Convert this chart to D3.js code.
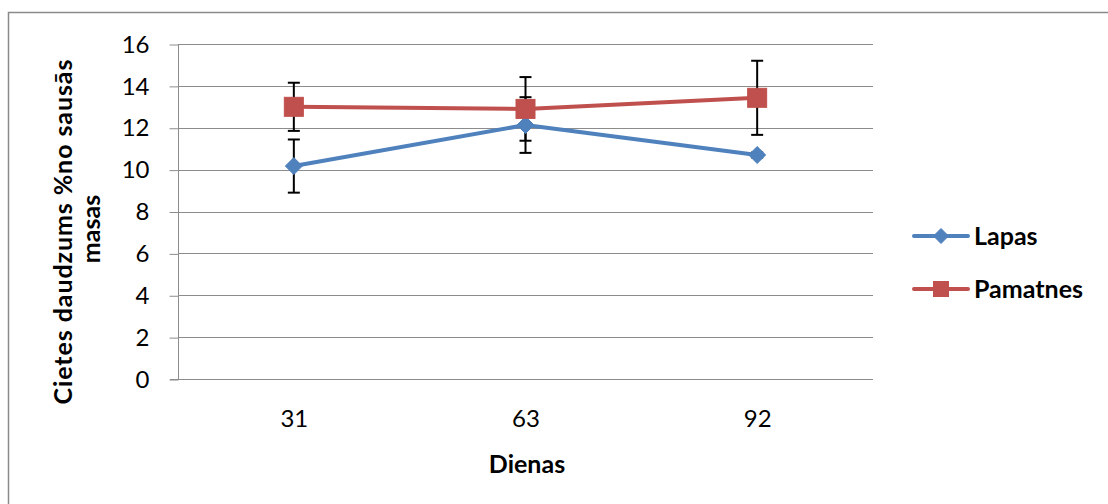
<!DOCTYPE html>
<html><head><meta charset="utf-8">
<script src="https://cdn.jsdelivr.net/npm/d3@7"></script>
<style>
html,body{margin:0;padding:0;background:#fff;}
svg{display:block;}
text{font-family:Lato,"Open Sans",sans-serif;}
</style></head>
<body><svg id="c" width="1108" height="504"></svg>
<script>
const categories = ["31", "63", "92"];
const lapasValues = [10.17, 12.13, 10.70];
const lapasErrors = [1.27, 1.33, 0.12];
const pamatnesValues = [13.00, 12.90, 13.43];
const pamatnesErrors = [1.15, 1.52, 1.77];
const yTicks = [0, 2, 4, 6, 8, 10, 12, 14, 16];
const seriesNames = ["Lapas", "Pamatnes"];
const yTitleLines = ["Cietes daudzums %no sausās", "masas"];
const xTitle = "Dienas";

const series = [
  {name: seriesNames[0], values: lapasValues, errors: lapasErrors, color: "#4F81BD", marker: "diamond"},
  {name: seriesNames[1], values: pamatnesValues, errors: pamatnesErrors, color: "#C0504D", marker: "square"}
];

const svg = d3.select("#c");
const gridColor = "#8c8c8c";

// outer frame
svg.append("rect").attr("x", 8.5).attr("y", 12.5).attr("width", 1300).attr("height", 700)
  .attr("fill", "none").attr("stroke", "#8a8a8a").attr("stroke-width", 1.5);

const x = d3.scalePoint().domain(categories).range([178, 873]).padding(0.5);
const y = d3.scaleLinear().domain([0, 16]).range([379, 44]);

// gridlines
svg.append("g").selectAll("line").data(yTicks.filter(d => d > 0)).join("line")
  .attr("x1", 178).attr("x2", 873)
  .attr("y1", d => Math.round(y(d)) + 0.5).attr("y2", d => Math.round(y(d)) + 0.5)
  .attr("stroke", gridColor).attr("stroke-width", 1);

// y axis
const yAxis = svg.append("g").attr("transform", "translate(178.5,0.5)")
  .call(d3.axisLeft(y).tickValues(yTicks).tickSize(9).tickPadding(20).tickFormat(d3.format("d")));
yAxis.select(".domain").attr("stroke", gridColor).attr("d", `M0,${y(16)}V${y(0)}`);
yAxis.selectAll(".tick line").attr("stroke", gridColor);
yAxis.selectAll(".tick text").attr("font-size", 24).attr("fill", "#000")
  .attr("font-family", "Lato, sans-serif");

// x axis
const xAxis = svg.append("g").attr("transform", `translate(0,${Math.round(y(0)) + 0.5})`)
  .call(d3.axisBottom(x).tickSize(0).tickPadding(30));
xAxis.select(".domain").attr("stroke", gridColor).attr("d", "M170,0H873");
xAxis.selectAll(".tick text").attr("font-size", 24).attr("fill", "#000")
  .attr("font-family", "Lato, sans-serif");

// lines
const line = d3.line().x((d, i) => x(categories[i])).y(d => y(d));
series.forEach(s => {
  svg.append("path").datum(s.values).attr("d", line)
    .attr("fill", "none").attr("stroke", s.color).attr("stroke-width", 4)
    .attr("stroke-linejoin", "round").attr("stroke-linecap", "round");
});

// error bars
series.forEach(s => {
  const g = svg.append("g").attr("stroke", "#000").attr("stroke-width", 2);
  s.values.forEach((v, i) => {
    const cx = x(categories[i]);
    const e = s.errors[i];
    g.append("line").attr("x1", cx).attr("x2", cx).attr("y1", y(v + e)).attr("y2", y(v - e));
    [v + e, v - e].forEach(b => {
      g.append("line").attr("x1", cx - 6).attr("x2", cx + 6).attr("y1", y(b)).attr("y2", y(b));
    });
  });
});

// markers
function drawMarker(g, type, cx, cy, color, size) {
  if (type === "diamond") {
    const r = size;
    g.append("path").attr("d", `M${cx},${cy - r}L${cx + r},${cy}L${cx},${cy + r}L${cx - r},${cy}Z`)
      .attr("fill", color).attr("stroke", color).attr("stroke-width", 1);
  } else {
    const h = size;
    g.append("rect").attr("x", cx - h).attr("y", cy - h).attr("width", 2 * h).attr("height", 2 * h)
      .attr("fill", color).attr("stroke", color).attr("stroke-width", 1);
  }
}
series.forEach(s => {
  const g = svg.append("g");
  s.values.forEach((v, i) => {
    drawMarker(g, s.marker, x(categories[i]), y(v), s.color, s.marker === "diamond" ? 8.5 : 9.5);
  });
});

// y title
const yTitleX = [72, 100];
const yTitleLen = [345, null];
yTitleLines.forEach((t, i) => {
  const tx = svg.append("text")
    .attr("transform", `translate(${yTitleX[i]},${i === 0 ? 232 : 229}) rotate(-90)`)
    .attr("text-anchor", "middle").attr("font-size", 25).attr("font-weight", "bold").attr("fill", "#000")
    .text(t);
  if (yTitleLen[i]) tx.attr("textLength", yTitleLen[i]).attr("lengthAdjust", "spacing");
});

// x title
svg.append("text").attr("x", 527).attr("y", 473).attr("text-anchor", "middle")
  .attr("font-size", 25).attr("font-weight", "bold").attr("fill", "#000").text(xTitle);

// legend
const legY = [236, 289];
series.forEach((s, i) => {
  const g = svg.append("g");
  g.append("line").attr("x1", 914).attr("x2", 968).attr("y1", legY[i]).attr("y2", legY[i])
    .attr("stroke", s.color).attr("stroke-width", 4).attr("stroke-linecap", "round");
  drawMarker(g, s.marker, 941, legY[i], s.color, 7.5);
  g.append("text").attr("x", 974).attr("y", legY[i]).attr("dy", "0.36em")
    .attr("font-size", 25).attr("font-weight", "bold").attr("fill", "#000").text(s.name);
});
</script></body></html>
